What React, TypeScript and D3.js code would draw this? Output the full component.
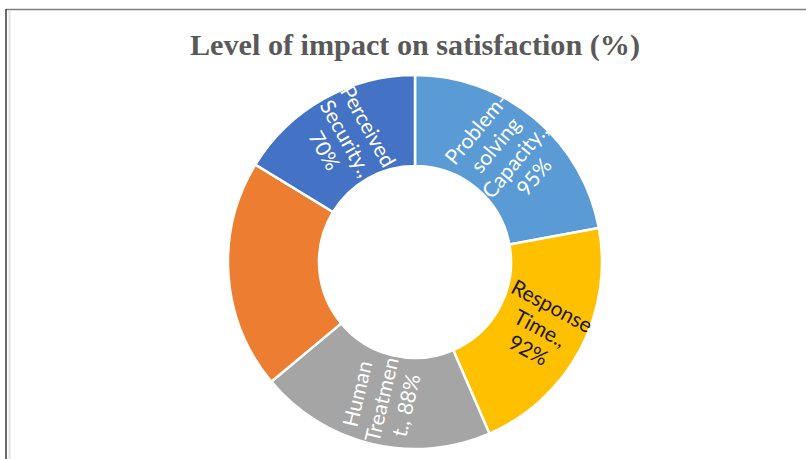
import React from "react";
import * as d3 from "d3";

const categories = [
  "Problem-solving Capacity",
  "Response Time",
  "Human Treatment",
  "Other",
  "Perceived Security",
];
const values = [95, 92, 88, 85, 70];
const colors = ["#5B9BD5", "#FFC000", "#A5A5A5", "#ED7D31", "#4472C4"];
// wrapped label lines; "{v}" is replaced with the value
const labelLines = [
  ["Problem-", "solving", "Capacity.,", "{v}%"],
  ["Response", "Time.,", "{v}%"],
  ["Human", "Treatmen", "t., {v}%"],
  [],
  ["Perceived", "Security.,", "{v}%"],
];
const labelColors = ["#FFFFFF", "#1A1A1A", "#FFFFFF", "#FFFFFF", "#FFFFFF"];
const title = "Level of impact on satisfaction (%)";

const W = 806;
const H = 459;
const cx = 415;
const cy = 262;
const outerR = 187;
const innerR = 96;

export default function App() {
  const pie = d3.pie<number>().sort(null).value((d) => d);
  const arcs = pie(values);
  const arcGen = d3.arc<d3.PieArcDatum<number>>().innerRadius(innerR).outerRadius(outerR);
  const midR = (innerR + outerR) / 2;
  const lh = 25;

  return (
    <svg
      width={W}
      height={H}
      style={{ position: "absolute", left: 0, top: 0, background: "#fff" }}
    >
      <rect x={0} y={0} width={W} height={H} fill="#fff" />
      <line x1={6} y1={9.5} x2={W} y2={9.5} stroke="#7f7f7f" strokeWidth={1.5} />
      <line x1={6} y1={9} x2={6} y2={H} stroke="#3a3a3a" strokeWidth={1.5} />
      <line x1={9.5} y1={10.5} x2={9.5} y2={H} stroke="#e3e3e3" strokeWidth={2} />
      <text
        x={cx}
        y={55}
        textAnchor="middle"
        fontFamily="'Liberation Serif', 'Times New Roman', serif"
        fontWeight="bold"
        fontSize={29}
        fill="#595959"
        textLength={450}
        lengthAdjust="spacingAndGlyphs"
      >
        {title}
      </text>
      <g transform={`translate(${cx},${cy})`}>
        {arcs.map((a, i) => (
          <path key={categories[i]} d={arcGen(a) || ""} fill={colors[i]} stroke="#fff" strokeWidth={2.5} />
        ))}
        {arcs.map((a, i) => {
          const lines = labelLines[i].map((s) => s.replace("{v}", String(values[i])));
          if (!lines.length) return null;
          const mid = (a.startAngle + a.endAngle) / 2;
          const x = Math.sin(mid) * midR;
          const y = -Math.cos(mid) * midR;
          let rot = (mid * 180) / Math.PI - 90;
          if (rot > 90) rot -= 180;
          const n = lines.length;
          return (
            <text
              key={"l" + i}
              transform={`translate(${x},${y}) rotate(${rot})`}
              textAnchor="middle"
              fontFamily="Lato, 'Open Sans', sans-serif"
              fontSize={21}
              fill={labelColors[i]}
            >
              {lines.map((ln, j) => (
                <tspan key={j} x={0} y={(j - (n - 1) / 2) * lh + 7}>
                  {ln}
                </tspan>
              ))}
            </text>
          );
        })}
      </g>
    </svg>
  );
}
